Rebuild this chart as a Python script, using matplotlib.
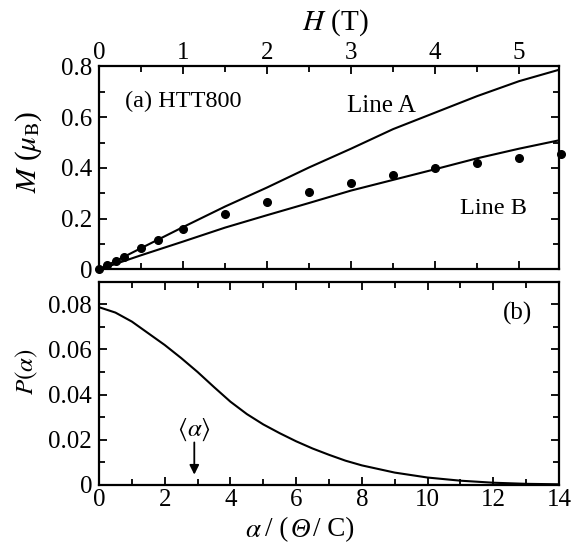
import matplotlib
matplotlib.use("Agg")
import matplotlib.pyplot as plt
from matplotlib.ticker import MultipleLocator, FuncFormatter
from matplotlib.offsetbox import TextArea, HPacker, AnnotationBbox

plt.rcParams['font.family'] = 'serif'
plt.rcParams['font.serif'] = ['Liberation Serif', 'DejaVu Serif']
plt.rcParams['mathtext.fontset'] = 'stix'

# upper panel: field H (T), alpha axis of lower panel maps 0..14 -> 0..H_MAX
H_MAX = 5.476

# measured points
h_pts = [0, 0.1, 0.2, 0.3, 0.5, 0.7, 1.0, 1.5, 2.0, 2.5, 3.0, 3.5, 4.0, 4.5, 5.0, 5.5]
m_pts = [0, 0.018, 0.035, 0.051, 0.084, 0.117, 0.159, 0.217, 0.266, 0.306,
         0.341, 0.371, 0.398, 0.418, 0.440, 0.456]

# calculated curves
h_line = [0, 0.5, 1.0, 1.5, 2.0, 2.5, 3.0, 3.5, 4.0, 4.5, 5.0, 5.476]
m_line_a = [0, 0.084, 0.167, 0.248, 0.323, 0.402, 0.476, 0.553, 0.618, 0.683, 0.742, 0.787]
m_line_b = [0, 0.056, 0.110, 0.165, 0.214, 0.262, 0.311, 0.353, 0.395, 0.438, 0.476, 0.509]

# lower panel: distribution P(alpha)
alpha = [0, 0.5, 1, 1.5, 2, 2.5, 3, 3.5, 4, 4.5, 5, 5.5, 6, 6.5, 7, 7.5, 8,
         9, 10, 11, 12, 13, 14]
p_alpha = [0.0788, 0.0764, 0.0724, 0.0672, 0.0620, 0.0562, 0.0500, 0.0433,
           0.0368, 0.0313, 0.0267, 0.0228, 0.0192, 0.0160, 0.0132, 0.0106,
           0.0085, 0.0053, 0.0031, 0.0017, 0.0008, 0.0003, 0.0001]
alpha_mean = 2.9

fig = plt.figure(figsize=(5.79, 5.43), dpi=100)
ax1 = fig.add_axes([0.171, 0.5037, 0.7945, 0.3739])
ax2 = fig.add_axes([0.171, 0.1077, 0.7945, 0.373])

lw = 1.5
for ax in (ax1, ax2):
    for s in ax.spines.values():
        s.set_linewidth(1.6)
    ax.tick_params(which='both', direction='in', top=True, right=True,
                   labelsize=18, width=1.3)
    ax.tick_params(which='major', length=6)
    ax.tick_params(which='minor', length=4)

# (a)
ax1.plot(h_line, m_line_a, color='black', lw=lw)
ax1.plot(h_line, m_line_b, color='black', lw=lw)
ax1.plot(h_pts, m_pts, 'o', color='black', ms=5.5, clip_on=False, zorder=5)
ax1.set_xlim(0, H_MAX)
ax1.set_ylim(0, 0.8)
ax1.xaxis.set_major_locator(MultipleLocator(1))
ax1.xaxis.set_minor_locator(MultipleLocator(0.5))
ax1.yaxis.set_major_locator(MultipleLocator(0.2))
ax1.yaxis.set_minor_locator(MultipleLocator(0.1))
ax1.tick_params(which='both', labelbottom=False, labeltop=True)
ax1.tick_params(axis='x', pad=2)
ax1.tick_params(axis='y', pad=5)
ax1.yaxis.set_major_formatter(FuncFormatter(lambda v, p: '0' if v == 0 else f'{v:.1f}'))
ax1.text(0.513, 1.217, r'$H$ (T)', fontsize=21, ha='center', va='center',
         transform=ax1.transAxes)
fig.text(29 / 579, 1 - 152 / 543, r'$M$ ($\mu_{\rm B}$)', fontsize=21,
         rotation=90, ha='center', va='center')
ax1.text(0.31, 0.663, '(a) HTT800', fontsize=17.5, ha='left', va='center')
ax1.text(2.95, 0.646, 'Line A', fontsize=18, ha='left', va='center')
ax1.text(4.30, 0.242, 'Line B', fontsize=17.5, ha='left', va='center')

# (b)
ax2.plot(alpha, p_alpha, color='black', lw=lw)
ax2.set_xlim(0, 14)
ax2.set_ylim(0, 0.09)
ax2.xaxis.set_major_locator(MultipleLocator(2))
ax2.xaxis.set_minor_locator(MultipleLocator(1))
ax2.yaxis.set_major_locator(MultipleLocator(0.02))
ax2.yaxis.set_minor_locator(MultipleLocator(0.01))
ax2.tick_params(axis='x', pad=3)
ax2.tick_params(axis='y', pad=5)
ax2.yaxis.set_major_formatter(FuncFormatter(lambda v, p: '0' if v == 0 else f'{v:.2f}'))
fig.text(27 / 579, 1 - 372 / 543, r'$P(\alpha)$', fontsize=18,
         rotation=90, ha='center', va='center')
ax2.text(12.29, 0.0761, '(b)', fontsize=18, ha='left', va='center')
ax2.annotate('', xy=(alpha_mean, 0.0044), xytext=(alpha_mean, 0.0187),
             arrowprops=dict(arrowstyle='-|>', color='black', lw=1.3,
                             mutation_scale=14, shrinkA=0, shrinkB=0))
ax2.text(alpha_mean, 0.0245, r'$\langle\alpha\rangle$', fontsize=18,
         ha='center', va='center')

# x label of the lower panel: italic alpha and Theta, upright rest
parts = [(r'$\alpha$', {'fontsize': 19.5}),
         ('/ (', {'fontsize': 19.5}),
         ('Θ', {'fontsize': 19.5, 'fontstyle': 'italic'}),
         ('/ C)', {'fontsize': 19.5})]
boxes = [TextArea(t, textprops=kw) for t, kw in parts]
pack = HPacker(children=boxes, align='baseline', pad=0, sep=2)
ab = AnnotationBbox(pack, (300 / 579, 1 - 530 / 543), xycoords='figure fraction',
                    frameon=False, box_alignment=(0.5, 0.5), pad=0)
fig.add_artist(ab)

plt.savefig('out.png', dpi=100)
plt.close()
